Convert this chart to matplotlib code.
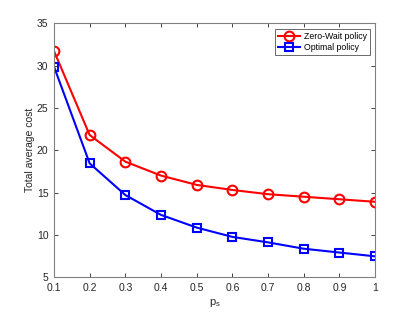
import numpy as np
import matplotlib.pyplot as plt

plt.rcParams['font.family'] = ['Liberation Sans', 'DejaVu Sans']

# data
p_s = [0.1, 0.2, 0.3, 0.4, 0.5, 0.6, 0.7, 0.8, 0.9, 1.0]
zero_wait = [31.75, 21.8, 18.65, 17.0, 15.9, 15.3, 14.8, 14.5, 14.2, 13.9]
optimal = [29.9, 18.45, 14.7, 12.35, 10.85, 9.75, 9.1, 8.35, 7.9, 7.45]

AX_COLOR = '#262626'

fig = plt.figure(figsize=(4.15, 3.12), dpi=100)
ax = fig.add_axes([0.130, 0.112, 0.774, 0.813])

ax.plot(p_s, zero_wait, '-o', color='red', lw=1.5, ms=7,
        mfc='none', mew=1.5, label='Zero-Wait policy')
ax.plot(p_s, optimal, '-s', color='blue', lw=1.5, ms=6,
        mfc='none', mew=1.5, label='Optimal policy')

ax.set_xlim(0.1, 1)
ax.set_ylim(5, 35)
ax.set_xticks(np.arange(0.1, 1.01, 0.1))
ax.set_xticklabels(['0.1', '0.2', '0.3', '0.4', '0.5', '0.6', '0.7', '0.8', '0.9', '1'])
ax.set_yticks(range(5, 36, 5))

ax.tick_params(direction='in', length=3, width=0.6, colors=AX_COLOR,
               labelsize=7.5, top=True, right=True, pad=4)
for s in ax.spines.values():
    s.set_color('#808080')
    s.set_linewidth(0.8)

ax.set_xlabel('p$_\\mathregular{s}$', fontsize=8, color=AX_COLOR, labelpad=3)
ax.set_ylabel('Total average cost', fontsize=7.5, color=AX_COLOR, labelpad=1)

leg = ax.legend(loc='upper right', fontsize=6.3, frameon=True, fancybox=False,
                edgecolor=AX_COLOR, borderpad=0.35, handlelength=2.5,
                handletextpad=0.4, labelspacing=0.25, borderaxespad=0.6)
leg.get_frame().set_linewidth(0.6)

fig.savefig('out.png', dpi=100)
